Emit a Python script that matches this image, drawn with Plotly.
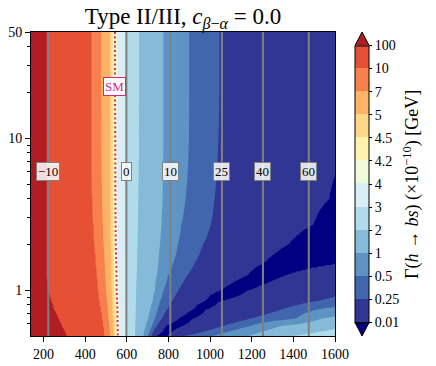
import numpy as np
import plotly.graph_objects as go

row_tb = [50, 20, 10, 6, 4, 2.7, 2, 1.5, 1.25, 1, 0.85, 0.75, 0.65, 0.58, 0.5]

# Gamma at the left (m=140) and right (m=1600) edge of each row
# (negative sign = below the zero valley, i.e. amplitude changed sign)
g_left = [300, 300, 300, 300, 300, 300, 300, 300, 300, 300, 300, 300, 300, 300, 300]
g_right = [0.08, 0.06, 0.03, 0.012, 0.0036, -0.0001, -0.0025, -0.01, -0.0625,
           -0.17, -0.31, -0.59, -1.15, -1.8, -2.56]

# m_H+ where each row crosses a contour level (None = no crossing)
N = None
x_100 = [216, 216, 216, 216, 216, 216, 216, 216, 216, 222, 237, 251, 273, 290, 314]
x_10 = [432, 432, 432, 432, 435, 440, 445, 452, 457, 464, 470, 476, 483, 489, 495]
x_7 = [477, 477, 478, 479, 481, 485, 489, 494, 497, 501, 505, 509, 513, 517, 521]
x_5 = [520, 520, 521, 521, 522, 523, 524, 526, 527, 529, 531, 532, 534, 535, 537]
x_4p5 = [531, 531, 532, 532, 533, 534, 535, 537, 538, 539, 541, 542, 543, 544, 545]
x_4p2 = [544, 544, 545, 545, 546, 547, 548, 550, 551, 552, 554, 555, 556, 557, 558]
x_4 = [552, 552, 552, 553, 553, 554, 555, 557, 558, 559, 560, 561, 562, 563, 564]
x_3 = [594, 594, 594, 594, 594, 595, 595, 596, 596, 597, 598, 598, 599, 599, 600]
x_2 = [659, 659, 658, 657, 655, 653, 651, 649, 647, 645, 644, 643, 642, 641, 640]
x_1 = [776, 776, 776, 775, 772, 767, 760, 752, 745, 735, 725, 715, 703, 692, 680]
x_0p5 = [900, 900, 899, 893, 882, 862, 846, 822, 798, 776, 760, 748, 735, 721, 702]
x_0p25 = [1044, 1044, 1040, 1031, 1021, 1003, 966, 925, 889, 847, 817, 793, 769, 745, 719]
x_0p01 = [N, N, N, N, 1575, 1498, 1378, 1259, 1182, 1057, 983, 923, 853, 788, 745]
x_zero = [N, N, N, N, N, 1575, 1460, 1340, 1230, 1115, 1000, 942, 889, 827, 769]
x_m0p01 = [N, N, N, N, N, N, N, N, 1354, 1177, 1043, 980, 913, 860, 793]
x_m0p25 = [N, N, N, N, N, N, N, N, N, N, 1518, 1345, 1191, 1057, 880]
x_m0p5 = [N, N, N, N, N, N, N, N, N, N, N, 1518, 1412, 1187, 1009]
x_m1 = [N, N, N, N, N, N, N, N, N, N, N, N, 1534, 1335, 1182]
x_m2 = [N, N, N, N, N, N, N, N, N, N, N, N, N, N, 1393]

# colour levels of the filled contours
levels = [0.01, 0.25, 0.5, 1, 2, 3, 4, 4.2, 4.5, 5, 7, 10, 100]
level_text = ['0.01', '0.25', '0.5', '1', '2', '3', '4', '4.2', '4.5', '5', '7', '10', '100']
# under, 12 bands, over
colors = ['#000080', '#313695', '#4266ad', '#5e94c4', '#85bbd9', '#afdbea', '#d9eff5',
          '#f0f9da', '#fff3ad', '#fed888', '#fdb265', '#f7804c', '#e65136', '#b01e24']

# grey reference lines and their labels
ref_x = [223, 598, 809, 1057, 1254, 1474]
ref_text = ['\u221210', '0', '10', '25', '40', '60']
ref_label_tb = 6
sm_level = 4.2
sm_label = (541, 22)

FONT = 'Liberation Serif'
SM_COLOR = '#d4258f'

cross = [(100, x_100), (10, x_10), (7, x_7), (5, x_5), (4.5, x_4p5), (4.2, x_4p2),
         (4, x_4), (3, x_3), (2, x_2), (1, x_1), (0.5, x_0p5), (0.25, x_0p25),
         (0.01, x_0p01), (0, x_zero), (-0.01, x_m0p01), (-0.25, x_m0p25),
         (-0.5, x_m0p5), (-1, x_m1), (-2, x_m2)]

# build the grid the contour trace needs (signed amplitude sqrt(Gamma) per row)
mh = np.linspace(140, 1600, 293)
tb = np.logspace(np.log10(0.5), np.log10(50), 241)
amp_rows = []
for r in range(len(row_tb)):
    kx = [140]
    kz = [g_left[r]]
    for lev, xs in cross:
        if xs[r] is not None:
            kx.append(xs[r])
            kz.append(lev)
    kx.append(1600)
    kz.append(g_right[r])
    kz = np.array(kz, float)
    amp_rows.append(np.interp(mh, kx, np.sign(kz) * np.sqrt(np.abs(kz))))
amp_rows = np.array(amp_rows)[::-1]
lt = np.log10(row_tb)[::-1]
amp = np.array([np.interp(np.log10(tb), lt, amp_rows[:, j]) for j in range(len(mh))]).T
gam = amp ** 2
nb = len(levels) - 1
zi = np.interp(gam, [0] + levels + [1000], np.arange(-1, nb + 2))

# stepwise scales: one for the plot (with under/over), one for the colourbar
plot_scale = []
for i, c in enumerate(colors):
    plot_scale += [[i / len(colors), c], [(i + 1) / len(colors), c]]
bar_scale = []
for i, c in enumerate(colors[1:-1]):
    bar_scale += [[i / nb, c], [(i + 1) / nb, c]]

# colourbar geometry (paper units of the plot area)
cb_x, cb_w, cb_len = 1.066, 14 / 304, 0.912
cb_y0 = 0.5 - cb_len / 2

fig = go.Figure()
fig.add_trace(go.Contour(
    x=mh, y=tb, z=zi,
    autocontour=False,
    contours=dict(start=0, end=nb, size=1, coloring='fill', showlines=False),
    line_width=0,
    colorscale=plot_scale, zmin=-1, zmax=nb + 1,
    showscale=False, hoverinfo='skip',
))
fig.add_trace(go.Contour(
    x=mh, y=tb, z=zi,
    autocontour=False,
    contours=dict(start=levels.index(sm_level), end=levels.index(sm_level), size=1,
                  coloring='none'),
    line=dict(color=SM_COLOR, width=2, dash='2px,2.5px'),
    showscale=False, hoverinfo='skip',
))
# carrier for the colourbar only
fig.add_trace(go.Scatter(
    x=[None, None], y=[None, None], mode='markers', hoverinfo='skip',
    marker=dict(
        color=[0, nb], cmin=0, cmax=nb, colorscale=bar_scale, showscale=True,
        colorbar=dict(
            x=cb_x, xanchor='left', y=0.5, yanchor='middle',
            len=cb_len, thickness=14, xpad=0, ypad=0,
            outlinewidth=1, outlinecolor='black',
            tickvals=list(range(len(levels))), ticktext=level_text,
            ticks='outside', ticklen=3, tickcolor='black',
            tickfont=dict(family=FONT, size=14, color='black'),
        ),
    ),
))

for xv, txt in zip(ref_x, ref_text):
    fig.add_vline(x=xv, line_color='#808080', line_width=2)
    fig.add_annotation(x=xv, y=np.log10(ref_label_tb), text=txt, showarrow=False,
                       font=dict(family=FONT, size=13, color='black'),
                       bgcolor='rgba(255,255,255,0.85)', bordercolor='#808080',
                       borderwidth=1, borderpad=1)

fig.add_annotation(x=sm_label[0], y=np.log10(sm_label[1]), text='SM', showarrow=False,
                   font=dict(family=FONT, size=13, color=SM_COLOR),
                   bgcolor='white', bordercolor=SM_COLOR, borderwidth=1, borderpad=1)

# colourbar title
fig.add_annotation(x=1.299, y=0.5, xref='paper', yref='paper', textangle=-90,
                   text='\u0393(<i>h</i> \u2192 <i>bs</i>) (\u00d710<sup>\u221210</sup>) [GeV]',
                   showarrow=False, font=dict(family=FONT, size=18, color='black'))

# colourbar extension triangles and the SM tick marker
xm = cb_x + cb_w / 2
fig.add_shape(type='path', xref='paper', yref='paper',
              path=f'M {cb_x},{cb_y0 + cb_len} L {cb_x + cb_w},{cb_y0 + cb_len} L {xm},1 Z',
              fillcolor=colors[-1], line=dict(color='black', width=1))
fig.add_shape(type='path', xref='paper', yref='paper',
              path=f'M {cb_x},{cb_y0} L {cb_x + cb_w},{cb_y0} L {xm},0 Z',
              fillcolor=colors[0], line=dict(color='black', width=1))
y_sm = cb_y0 + cb_len * levels.index(sm_level) / nb
fig.add_shape(type='line', xref='paper', yref='paper', x0=cb_x, x1=cb_x + cb_w,
              y0=y_sm, y1=y_sm, line=dict(color=SM_COLOR, width=2, dash='2px,2.5px'))

fig.update_xaxes(range=[140, 1600], tickvals=list(range(200, 1601, 200)),
                 ticks='outside', ticklen=5, tickcolor='black', automargin=False,
                 showline=True, linecolor='black', linewidth=1, mirror=True,
                 showgrid=False, zeroline=False,
                 tickfont=dict(family=FONT, size=14, color='black'))
fig.update_yaxes(type='log', range=[np.log10(0.5), np.log10(50)],
                 tickvals=[1, 10, 50], ticktext=['1', '10', '50'],
                 ticks='outside', ticklen=5, tickcolor='black', automargin=False,
                 minor=dict(tickvals=[0.6, 0.7, 0.8, 0.9, 2, 3, 4, 5, 6, 7, 8, 9, 20, 30, 40],
                            ticks='outside', ticklen=3, tickcolor='black'),
                 showline=True, linecolor='black', linewidth=1, mirror=True,
                 showgrid=False, zeroline=False,
                 tickfont=dict(family=FONT, size=14, color='black'))

fig.update_layout(
    width=436, height=366,
    margin=dict(l=31, r=101, t=32, b=30, autoexpand=False),
    paper_bgcolor='white', plot_bgcolor='white',
    showlegend=False,
    title=dict(text='Type II/III, <i>c</i><sub><i>\u03b2</i>\u2212<i>\u03b1</i></sub> = 0.0',
               x=0.5, xref='paper', xanchor='center', y=0.956, yanchor='middle',
               font=dict(family=FONT, size=23, color='black')),
)

fig.write_html('out.html', config={'displayModeBar': False},
               post_script="document.body.style.margin = '0px';")
